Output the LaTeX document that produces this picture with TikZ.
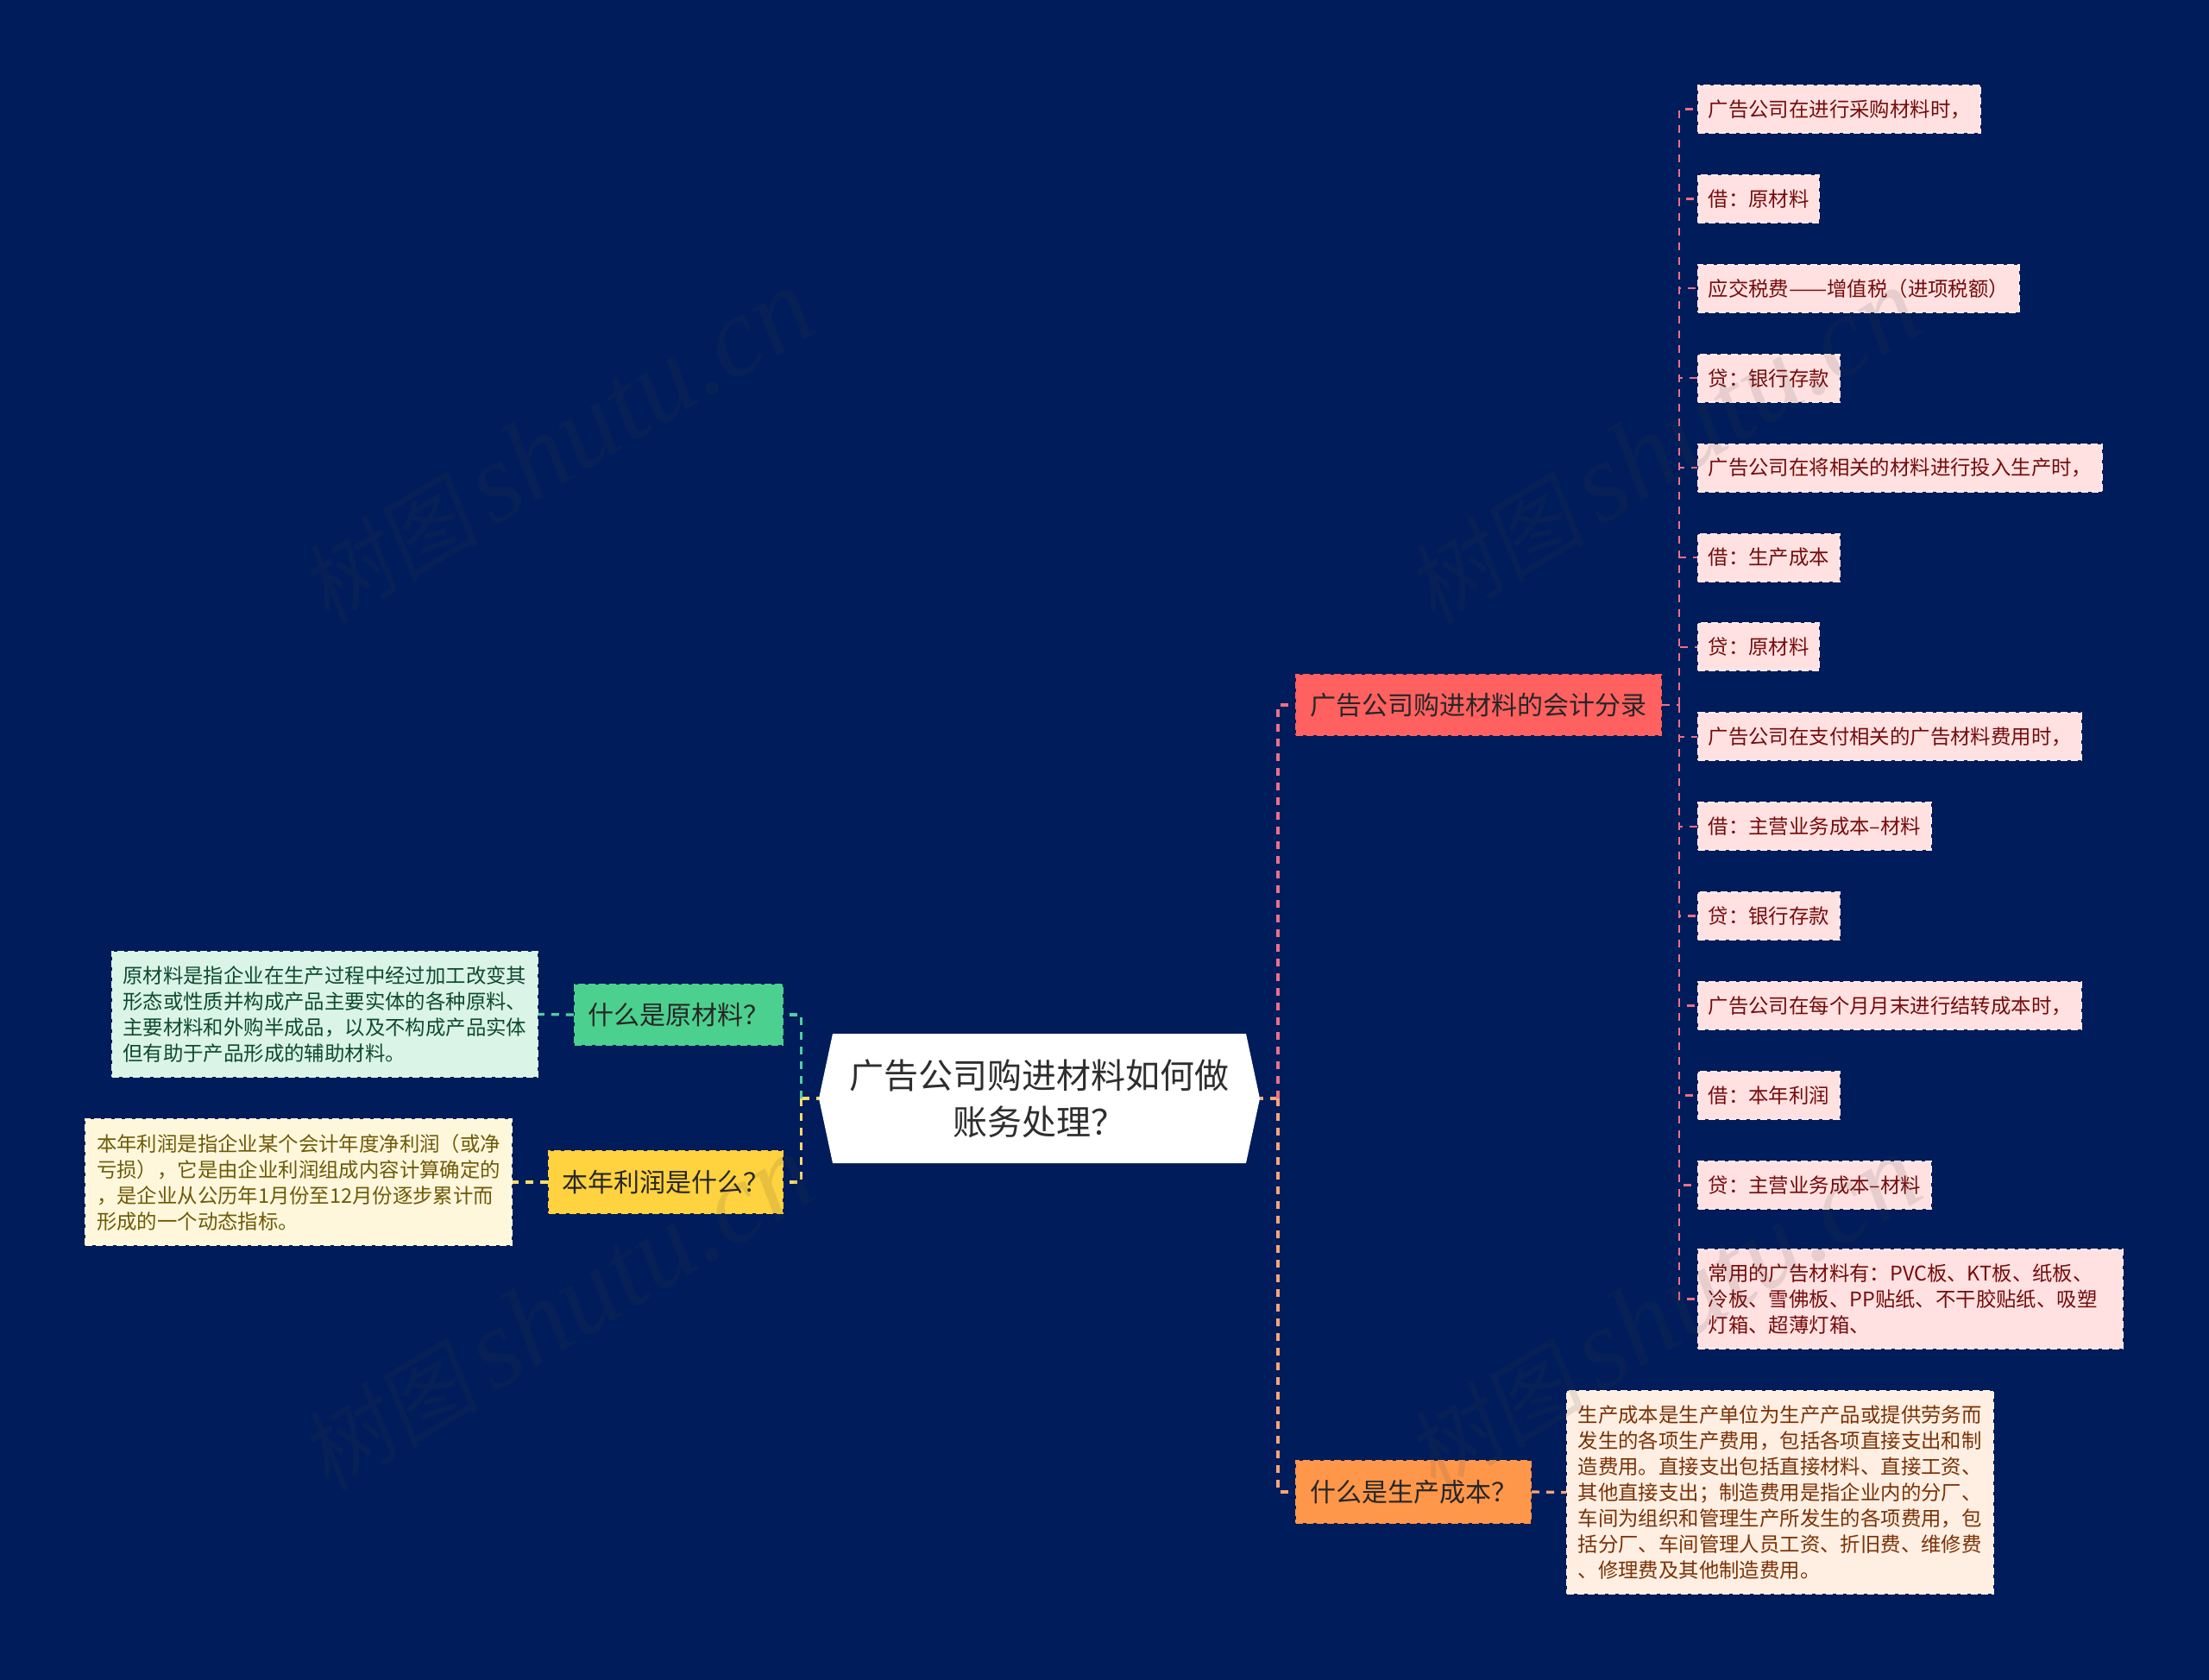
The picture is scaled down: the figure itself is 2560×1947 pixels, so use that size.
\documentclass[tikz,border=0pt]{standalone}
\usepackage{graphicx}
\usepackage{fontspec}
\setmainfont{Noto Sans CJK SC}
\newfontfamily\markcjk[FakeSlant=0.15]{Noto Sans CJK SC}
\newfontfamily\marklatin{Liberation Serif}
\definecolor{navy}{HTML}{001C5A}
\definecolor{rootink}{HTML}{2E2E2E}
\definecolor{redbox}{HTML}{FF6060}
\definecolor{redpale}{HTML}{FFE1E1}
\definecolor{redink}{HTML}{760C0C}
\definecolor{redline}{HTML}{EB7088}
\definecolor{orangebox}{HTML}{FF974B}
\definecolor{orangepale}{HTML}{FFEFE2}
\definecolor{orangeink}{HTML}{7A3208}
\definecolor{orangeline}{HTML}{F7A678}
\definecolor{greenbox}{HTML}{4CD08F}
\definecolor{greenpale}{HTML}{DAF5E8}
\definecolor{greenink}{HTML}{0F4A30}
\definecolor{greenline}{HTML}{4FCFA0}
\definecolor{yellowbox}{HTML}{FFD23F}
\definecolor{yellowpale}{HTML}{FFF7DC}
\definecolor{yellowink}{HTML}{6E5A08}
\definecolor{yellowline}{HTML}{F8DC6C}
\definecolor{markgray}{HTML}{404040}
\newcommand{\marktext}{{\fontsize{52}{68}\selectfont\markcjk 树图}\kern8pt{\fontsize{66}{68}\selectfont\marklatin\itshape shutu.cn}}
\tikzset{
    branchbox/.style={dashed, dash pattern=on 4pt off 2pt, line width=1pt, inner sep=0pt, minimum height=36pt,
        font=\fontsize{15}{20}\selectfont, text=black!85},
    notebox/.style={dashed, dash pattern=on 4pt off 2pt, line width=1pt, inner sep=0pt, align=left,
        font=\fontsize{11.7}{15}\selectfont},
    leafbox/.style={notebox, anchor=west, inner xsep=5.8pt, minimum height=27.5pt, fill=redpale, draw=redpale!70!white, text=redink},
    link/.style={dash pattern=on 4.5pt off 4pt, line width=1.6pt},
    leaflink/.style={redline, dash pattern=on 4.5pt off 4pt, line width=1.2pt},
    watermark/.style={rotate=31, text=markgray, opacity=0.12, inner sep=0pt}
}
\begin{document}
\begin{tikzpicture}[x=0.5pt,y=-0.5pt]
        \fill[navy] (0,0) rectangle (2560,1947);
        \useasboundingbox (0,0) rectangle (2560,1947);
        % centre
        \fill[white] (949,1273) -- (965,1198) -- (1444,1198) -- (1460,1273) -- (1444,1348) -- (965,1348) -- cycle;
        \node[minimum width=255.5pt, minimum height=75pt, inner sep=0pt, align=center, text=rootink,
            font=\fontsize{20}{27}\selectfont] (root) at (1204.5,1273) {广告公司购进材料如何做\\账务处理？};
        % bus points
        \coordinate (busleft)  at (928.5,1273);
        \coordinate (busright) at (1481,1273);
        \coordinate (busleaf)  at (1946,817);
        % right branches
        \node[branchbox, fill=redbox, draw=redbox, minimum width=211.5pt, minimum height=35pt] (entry) at (1713.5,817) {广告公司购进材料的会计分录};
        \node[branchbox, fill=orangebox, draw=orangebox, minimum width=136pt] (costq) at (1638,1729) {什么是生产成本？};
        \node[notebox, fill=orangepale, draw=orangepale, text=orangeink, minimum width=246.75pt, minimum height=117.5pt] (costnote) at (2062.75,1729.5) {生产成本是生产单位为生产产品或提供劳务而\\发生的各项生产费用，包括各项直接支出和制\\造费用。直接支出包括直接材料、直接工资、\\其他直接支出；制造费用是指企业内的分厂、\\车间为组织和管理生产所发生的各项费用，包\\括分厂、车间管理人员工资、折旧费、维修费\\、修理费及其他制造费用。};
        % left branches
        \node[branchbox, fill=greenbox, draw=greenbox, minimum width=120.5pt, minimum height=35pt] (rawq) at (786.25,1176) {什么是原材料？};
        \node[branchbox, fill=yellowbox, draw=yellowbox, minimum width=135.5pt] (profitq) at (771.25,1370) {本年利润是什么？};
        \node[notebox, fill=greenpale, draw=greenpale, text=greenink, minimum width=246.25pt, minimum height=72.5pt] (rawnote) at (376.25,1175.5) {原材料是指企业在生产过程中经过加工改变其\\形态或性质并构成产品主要实体的各种原料、\\主要材料和外购半成品，以及不构成产品实体\\但有助于产品形成的辅助材料。};
        \node[notebox, fill=yellowpale, draw=yellowpale, text=yellowink, minimum width=247pt, minimum height=73pt] (profitnote) at (346,1370) {本年利润是指企业某个会计年度净利润（或净\\亏损），它是由企业利润组成内容计算确定的\\，是企业从公历年1月份至12月份逐步累计而\\形成的一个动态指标。};
        % entry leaves
        \node[leafbox] (leafa) at (1967,126.5)  {广告公司在进行采购材料时，};
        \node[leafbox] (leafb) at (1967,230.4)  {借：原材料};
        \node[leafbox] (leafc) at (1967,334.3)  {应交税费\scalebox{1.13}[1]{——}增值税（进项税额）};
        \node[leafbox] (leafd) at (1967,438.2)  {贷：银行存款};
        \node[leafbox] (leafe) at (1967,542.1)  {广告公司在将相关的材料进行投入生产时，};
        \node[leafbox] (leaff) at (1967,646)    {借：生产成本};
        \node[leafbox] (leafg) at (1967,749.9)  {贷：原材料};
        \node[leafbox] (leafh) at (1967,853.8)  {广告公司在支付相关的广告材料费用时，};
        \node[leafbox] (leafi) at (1967,957.7)  {借：主营业务成本–材料};
        \node[leafbox] (leafj) at (1967,1061.6) {贷：银行存款};
        \node[leafbox] (leafk) at (1967,1165.5) {广告公司在每个月月末进行结转成本时，};
        \node[leafbox] (leafl) at (1967,1269.4) {借：本年利润};
        \node[leafbox] (leafm) at (1967,1373.3) {贷：主营业务成本–材料};
        \node[leafbox, text width=234.5pt, minimum height=57.5pt] (leafn) at (1967,1505.5) {常用的广告材料有：PVC板、KT板、纸板、\\冷板、雪佛板、PP贴纸、不干胶贴纸、吸塑\\灯箱、超薄灯箱、};
        % connectors
        \draw[link, orangeline] (busright) -- (root.east);
        \draw[link, redline] (busright) |- (entry.west);
        \draw[link, orangeline] (busright) |- (costq.west);
        \draw[link, orangeline] (costq.east) -- (costnote.west);
        \draw[link, yellowline] (busleft) -- (root.west);
        \draw[link, greenline] (busleft) |- (rawq.east);
        \draw[link, yellowline] (busleft) |- (profitq.east);
        \draw[link, greenline] (rawq.west) -- (rawnote.east);
        \draw[link, yellowline] (profitq.west) -- (profitnote.east);
        \draw[leaflink] (entry.east) -- (busleaf);
        \draw[leaflink] (busleaf) |- (leafa.west);
        \draw[leaflink] (busleaf) |- (leafb.west);
        \draw[leaflink] (busleaf) |- (leafc.west);
        \draw[leaflink] (busleaf) |- (leafd.west);
        \draw[leaflink] (busleaf) |- (leafe.west);
        \draw[leaflink] (busleaf) |- (leaff.west);
        \draw[leaflink] (busleaf) |- (leafg.west);
        \draw[leaflink] (busleaf) |- (leafh.west);
        \draw[leaflink] (busleaf) |- (leafi.west);
        \draw[leaflink] (busleaf) |- (leafj.west);
        \draw[leaflink] (busleaf) |- (leafk.west);
        \draw[leaflink] (busleaf) |- (leafl.west);
        \draw[leaflink] (busleaf) |- (leafm.west);
        \draw[leaflink] (busleaf) |- (leafn.west);
        % watermarks
        \node[watermark] (marka) at (645,518)   {\marktext};
        \node[watermark] (markb) at (1927,518)  {\marktext};
        \node[watermark] (markc) at (645,1522)  {\marktext};
        \node[watermark] (markd) at (1927,1522) {\marktext};
    \end{tikzpicture}
\end{document}
